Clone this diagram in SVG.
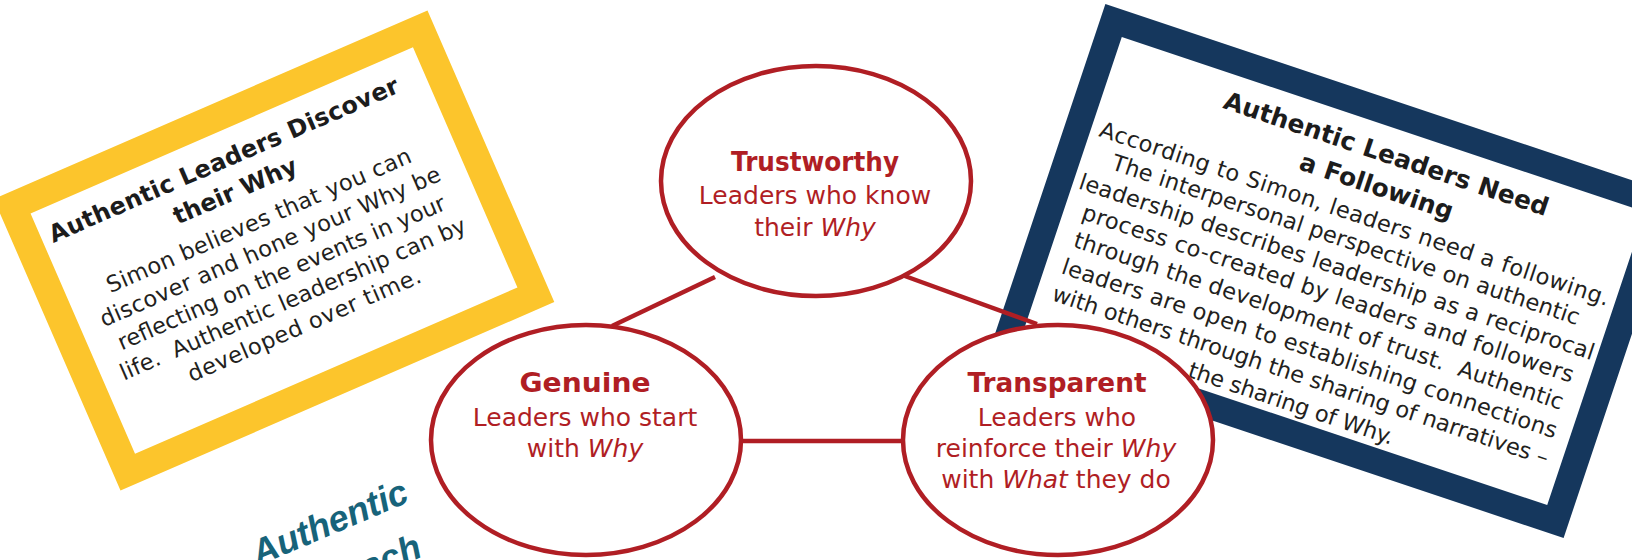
<svg xmlns="http://www.w3.org/2000/svg" width="1632" height="560" viewBox="0 0 1632 560">
<style>
.card{fill:#ffffff}
.ytitle,.ntitle{font-family:"DejaVu Sans","Liberation Sans",sans-serif;font-weight:bold;font-size:24px;fill:#1c1c1c;text-anchor:middle}
.ntitle{font-size:25px}
.body{font-family:"DejaVu Sans","Liberation Sans",sans-serif;font-size:22.5px;fill:#231f20;text-anchor:middle;white-space:pre}
.ctitle{font-family:"DejaVu Sans","Liberation Sans",sans-serif;font-weight:bold;font-size:27px;fill:#b01e24;text-anchor:middle}
.ctext{font-family:"DejaVu Sans","Liberation Sans",sans-serif;font-size:25px;fill:#b01e24;text-anchor:middle}
.node{fill:#ffffff;stroke:#b01e24;stroke-width:4.5}
.conn{stroke:#b01e24;stroke-width:4.5;fill:none}
.teal{font-family:"Liberation Sans",Arial,sans-serif;font-weight:bold;font-style:italic;font-size:36px;fill:#17637a}
</style>

<g id="card-discover" transform="translate(274 250.5) rotate(-23.5)">
  <rect x="-222.5" y="-145" width="445" height="290" fill="#ffffff" stroke="#fcc52c" stroke-width="28"/>
  <text class="ytitle" x="-10" y="-95" textLength="379">Authentic Leaders Discover</text>
  <text class="ytitle" x="-12" y="-62">their Why</text>
  <text class="body" x="-2" y="-26" textLength="330">Simon believes that you can</text>
  <text class="body" x="-2" y="2.5" textLength="369">discover and hone your Why be</text>
  <text class="body" x="-2" y="31" textLength="355">reflecting on the events in your</text>
  <text class="body" x="-2" y="59.5" textLength="375">life.  Authentic leadership can by</text>
  <text class="body" x="-2" y="88" textLength="252">developed over time.</text>
</g>

<g id="card-following" transform="translate(1334.5 271) rotate(18.5)">
  <rect x="-289" y="-167.5" width="578" height="335" fill="#ffffff" stroke="#15375d" stroke-width="26"/>
  <text class="ntitle" x="12" y="-119" textLength="341">Authentic Leaders Need</text>
  <text class="ntitle" x="13" y="-85">a Following</text>
  <text class="body" x="1" y="-53" textLength="536">According to Simon, leaders need a following.</text>
  <text class="body" x="1" y="-25.5" textLength="492">The interpersonal perspective on authentic</text>
  <text class="body" x="1" y="3" textLength="542">leadership describes leadership as a reciprocal</text>
  <text class="body" x="1" y="31" textLength="517">process co-created by leaders and followers</text>
  <text class="body" x="1" y="60" textLength="515">through the development of trust.  Authentic</text>
  <text class="body" x="1" y="89" textLength="521">leaders are open to establishing connections</text>
  <text class="body" x="1" y="117.5" textLength="522">with others through the sharing of narratives –</text>
  <text class="body" x="1" y="147" textLength="215">the sharing of Why.</text>
</g>

<g id="label-approach">
  <text class="teal" x="258" y="566" transform="rotate(-23 258 566)">Authentic</text>
  <text class="teal" x="424" y="556" text-anchor="end" transform="rotate(-23 424 556)">ach</text>
</g>

<g id="connectors">
  <line class="conn" x1="715" y1="277" x2="612" y2="326"/>
  <line class="conn" x1="902" y1="275" x2="1037" y2="324"/>
  <line class="conn" x1="743" y1="441" x2="901" y2="441"/>
</g>

<g id="node-trustworthy">
  <ellipse class="node" cx="816" cy="181" rx="155" ry="115"/>
  <text class="ctitle" x="815" y="171" textLength="168" lengthAdjust="spacingAndGlyphs">Trustworthy</text>
  <text class="ctext" x="815" y="204">Leaders who know</text>
  <text class="ctext" x="815" y="236">their <tspan font-style="italic">Why</tspan></text>
</g>

<g id="node-genuine">
  <ellipse class="node" cx="586" cy="440" rx="155" ry="115"/>
  <text class="ctitle" x="585" y="392" textLength="131" lengthAdjust="spacingAndGlyphs">Genuine</text>
  <text class="ctext" x="585" y="426">Leaders who start</text>
  <text class="ctext" x="585" y="457">with <tspan font-style="italic">Why</tspan></text>
</g>

<g id="node-transparent">
  <ellipse class="node" cx="1058" cy="440" rx="155" ry="115"/>
  <text class="ctitle" x="1057" y="392" textLength="179" lengthAdjust="spacingAndGlyphs">Transparent</text>
  <text class="ctext" x="1057" y="426">Leaders who</text>
  <text class="ctext" x="1056" y="457">reinforce their <tspan font-style="italic">Why</tspan></text>
  <text class="ctext" x="1056" y="488">with <tspan font-style="italic">What</tspan> they do</text>
</g>
</svg>
